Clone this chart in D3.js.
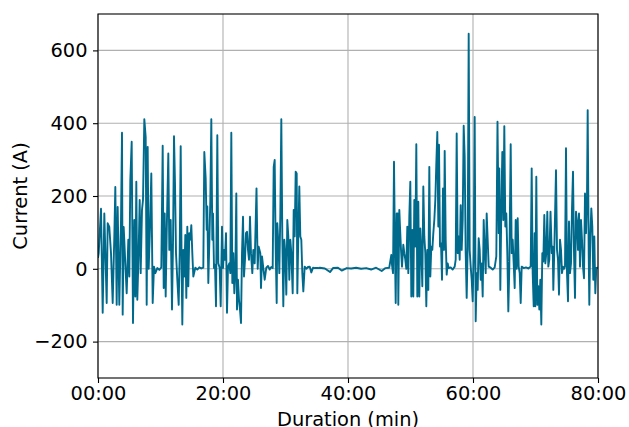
<!DOCTYPE html>
<html>
<head>
<meta charset="utf-8">
<script src="https://cdn.jsdelivr.net/npm/d3@7"></script>
<style>
  body { margin: 0; background: #fff; }
  text { font-family: "DejaVu Sans", sans-serif; }
</style>
</head>
<body>
<div class="chart"></div>
<script>
const width = 629
const height = 427

// duration in minutes, current in amps
const minutes = [
  0, 0.11, 0.48, 0.75, 1.01, 1.39, 1.55, 1.81, 2.08, 2.35, 2.61, 2.77, 2.99, 3.15, 3.41, 3.68, 3.84, 3.95,
  4.11, 4.37, 4.59, 4.85, 5.01, 5.17, 5.39, 5.6, 5.81, 5.97, 6.13, 6.29, 6.51, 6.67, 6.83, 7.04, 7.2,
  7.41, 7.63, 7.79, 7.95, 8.11, 8.32, 8.53, 8.75, 8.96, 9.17, 9.49, 9.81, 10.13, 10.35, 10.51, 10.67,
  10.83, 10.99, 11.25, 11.41, 11.63, 11.84, 12.0, 12.16, 12.32, 12.48, 12.69, 12.91, 13.07, 13.23,
  13.39, 13.49, 13.65, 13.81, 13.97, 14.13, 14.29, 14.45, 14.61, 14.77, 14.93, 15.09, 15.25, 15.57,
  15.89, 16.21, 16.53, 16.85, 17.01, 17.23, 17.39, 17.49, 17.65, 17.81, 17.97, 18.13, 18.29, 18.4,
  18.56, 18.72, 18.88, 19.09, 19.25, 19.47, 19.63, 19.84, 20.0, 20.16, 20.32, 20.48, 20.64, 20.8,
  21.01, 21.17, 21.33, 21.49, 21.65, 21.81, 21.97, 22.13, 22.24, 22.4, 22.56, 22.72, 22.88, 23.04,
  23.2, 23.36, 23.52, 23.68, 23.84, 24.0, 24.16, 24.32, 24.48, 24.69, 24.85, 25.07, 25.36, 25.55,
  25.7, 25.97, 26.08, 26.24, 26.45, 26.67, 26.93, 27.2, 27.47, 27.73, 27.95, 28.11, 28.27, 28.43,
  28.59, 28.69, 28.91, 29.01, 29.17, 29.33, 29.49, 29.65, 29.81, 29.97, 30.13, 30.29, 30.45, 30.61,
  30.77, 30.93, 31.15, 31.31, 31.47, 31.63, 31.79, 31.89, 32.05, 32.21, 32.37, 32.53, 32.69, 32.85,
  33.07, 33.33, 33.6, 33.87, 34.13, 34.4, 34.67, 35.2, 35.5, 36.3, 37.12, 37.6, 38.4, 38.99, 39.8,
  40.5, 41.3, 42.1, 42.9, 43.7, 44.5, 45.39, 46.0, 46.6, 46.93, 47.04, 47.2, 47.36, 47.52, 47.63,
  47.79, 47.95, 48.05, 48.21, 48.32, 48.48, 48.64, 48.85, 49.01, 49.17, 49.33, 49.49, 49.65, 49.81,
  49.97, 50.13, 50.29, 50.45, 50.61, 50.77, 50.93, 51.09, 51.25, 51.41, 51.57, 51.73, 51.89, 52.05,
  52.21, 52.37, 52.53, 52.69, 52.85, 53.01, 53.17, 53.33, 53.49, 53.65, 53.81, 53.97, 54.13, 54.29,
  54.45, 54.56, 54.72, 54.88, 55.04, 55.2, 55.36, 55.47, 55.63, 55.79, 55.95, 56.11, 56.43, 56.75,
  57.07, 57.23, 57.39, 57.55, 57.71, 57.87, 58.03, 58.19, 58.35, 58.51, 58.67, 58.83, 58.99, 59.15,
  59.31, 59.47, 59.63, 59.79, 59.95, 60.11, 60.27, 60.43, 60.59, 60.75, 60.91, 61.07, 61.23, 61.39,
  61.55, 61.71, 61.87, 62.03, 62.19, 62.35, 62.51, 62.83, 63.15, 63.47, 63.73, 63.92, 64.11, 64.21,
  64.37, 64.53, 64.69, 64.85, 65.01, 65.17, 65.33, 65.49, 65.65, 65.81, 66.03, 66.19, 66.35, 66.51,
  66.67, 66.83, 66.99, 67.15, 67.31, 67.47, 67.63, 67.79, 68.11, 68.48, 68.85, 69.23, 69.39, 69.55,
  69.71, 69.87, 69.97, 70.13, 70.29, 70.45, 70.61, 70.77, 70.93, 71.09, 71.25, 71.41, 71.57, 71.73,
  71.89, 72.05, 72.21, 72.4, 72.6, 72.75, 72.85, 73.01, 73.12, 73.28, 73.44, 73.6, 73.76, 73.92,
  74.08, 74.24, 74.4, 74.56, 74.72, 74.88, 75.04, 75.2, 75.36, 75.52, 75.68, 75.84, 76.0, 76.16,
  76.32, 76.48, 76.64, 76.8, 76.96, 77.12, 77.28, 77.44, 77.6, 77.76, 77.92, 78.08, 78.24, 78.35,
  78.51, 78.61, 78.77, 78.93, 79.09, 79.25, 79.41, 79.57, 79.73, 79.89, 80
]

const current = [
  30, 43, 165, -121, 152, -94, 125, 115, 43, -94, 89, 225, -99, 170, -99, 134, 374, -126,
  115, 15, -67, 80, -21, 244, 349, -149, 134, -76, 239, -85, 52, 189, -12, 162, 189,
  411, 362, -99, 335, 0, 115, 262, -94, 6, -12, 2, -3, 4, 338, -53, 152,
  -76, 98, 317, 52, 134, -112, 70, 364, 235, 43, -30, -99, 43, 337,
  -12, -153, 52, -21, 93, -80, 116, -48, 98, 80, 120, 43, -21, 3,
  -2, 4, 1, 3, 321, 248, 107, 171, -39, 70, 189, 411, 80, 152,
  2, 11, -103, 367, 15, 2, -103, 116, 2, 52, 25, 98, -121, 6,
  15, -12, 374, -39, 43, -67, -12, 207, -112, -30, -85, -112, -149, 43,
  143, -21, 25, 98, 102, 52, 25, 143, 43, -12, 52, 15, 221, 0,
  61, 43, -53, 34, 2, -30, 3, 8, -2, 5, 2, 280, 299, 52,
  -94, 125, 52, -12, 148, 411, 89, -103, 80, 43, -71, 134, 89, -30,
  80, 43, -67, 162, 89, 267, 262, -67, 89, 226, 89, 80, -12, -62,
  6, 0, 5, 6, -10, 3, 2, 2, 3, 1, -9, 2, 3, -5, 2,
  1, 3, 0, 2, -2, 3, -6, 2, 3, 38, 11, -12, 294, 43, -94,
  152, 152, -99, 162, 116, 52, 6, 66, 43, 25, 0, 116, -12, 143,
  239, -76, 107, -76, 189, 61, 342, -76, 184, -76, 111, 47, -48, 226,
  89, 43, -103, 52, -58, 280, -21, 61, 52, 98, 134, 189, 289, 376,
  116, 341, 61, 70, -30, 221, 52, 324, 80, -16, 15, 2, 4, -2,
  6, 25, 372, 43, 89, 25, 175, 52, 134, 393, 308, 43, -80, 61,
  646, 52, 6, -30, -89, 43, 417, -144, -12, -58, 84, 52, -30, 15,
  -76, 134, 52, -12, 152, 80, 6, 3, -2, 4, 34, 404, 98, 276,
  -58, 162, 321, 134, 392, 116, 152, 43, -117, 6, 342, 43, 80, 15,
  -53, 134, 0, 139, 6, -12, -94, 6, 2, 4, 1, 6, 276, -12,
  -103, 98, -103, 253, -99, -48, -112, -30, -153, 43, 20, 148, 15, 43,
  157, 6, 25, 157, 43, 61, -58, 52, 143, 271, 52, 25, -71, 80,
  52, -12, 6, 0, 6, 331, -12, -89, 130, -12, 15, 166, 267, 43,
  -80, 157, 130, 52, 152, 6, 134, 80, 6, -26, 207, 98, 198, 436,
  43, -99, 89, 166, 116, -30, 89, -67, 2, 2, 5
]

const xTicks = [0, 20, 40, 60, 80]
const yTicks = [-200, 0, 200, 400, 600]

const margin = {top: 14, right: 31, bottom: 49, left: 98}
const innerW = width - margin.left - margin.right
const innerH = height - margin.top - margin.bottom
const fontSize = "19.4px"

const x = d3.scaleLinear().domain([0, 80]).range([0, innerW])
const y = d3.scaleLinear().domain([-300, 700]).range([innerH, 0])

const svg = d3.create("svg")
  .attr("width", width)
  .attr("height", height)
  .attr("viewBox", [0, 0, width, height])

const g = svg.append("g")
  .attr("transform", `translate(${margin.left},${margin.top})`)

// grid
g.append("g")
  .selectAll("line")
  .data(xTicks)
  .join("line")
  .attr("x1", d => x(d)).attr("x2", d => x(d))
  .attr("y1", 0).attr("y2", innerH)
  .attr("stroke", "#b0b0b0")
  .attr("stroke-width", 1.1)

g.append("g")
  .selectAll("line")
  .data(yTicks)
  .join("line")
  .attr("x1", 0).attr("x2", innerW)
  .attr("y1", d => y(d)).attr("y2", d => y(d))
  .attr("stroke", "#b0b0b0")
  .attr("stroke-width", 1.1)

svg.append("defs").append("clipPath")
  .attr("id", "clip")
  .append("rect")
  .attr("width", innerW).attr("height", innerH)

const pts = minutes.map((m, i) => [m, current[i]])

const line = d3.line()
  .x(d => x(d[0]))
  .y(d => y(d[1]))

g.append("path")
  .datum(pts)
  .attr("clip-path", "url(#clip)")
  .attr("fill", "none")
  .attr("stroke", "#006a8d")
  .attr("stroke-width", 1.9)
  .attr("stroke-linejoin", "round")
  .attr("d", line)

// axes
const fmt = d3.format("02d")
const xAxis = g.append("g")
  .attr("transform", `translate(0,${innerH})`)
  .call(d3.axisBottom(x).tickValues(xTicks).tickSize(5).tickPadding(3.5)
    .tickFormat(d => fmt(d) + ":00"))

const yAxis = g.append("g")
  .call(d3.axisLeft(y).tickValues(yTicks).tickSize(5).tickPadding(5.5)
    .tickFormat(d => d < 0 ? "\u2212" + Math.abs(d) : d))

for (const ax of [xAxis, yAxis]) {
  ax.select(".domain").remove()
  ax.selectAll(".tick line").attr("stroke", "#000").attr("stroke-width", 1.1)
  ax.selectAll(".tick text")
    .attr("fill", "#000")
    .style("font-size", fontSize)
    .style("font-family", "'DejaVu Sans', sans-serif")
}

// frame
g.append("rect")
  .attr("width", innerW).attr("height", innerH)
  .attr("fill", "none")
  .attr("stroke", "#000")
  .attr("stroke-width", 1.1)

svg.append("text")
  .attr("x", margin.left + innerW / 2)
  .attr("y", 425.5)
  .attr("text-anchor", "middle")
  .style("font-size", fontSize)
  .text("Duration (min)")

svg.append("text")
  .attr("transform", `translate(26.5,${margin.top + innerH / 2}) rotate(-90)`)
  .attr("text-anchor", "middle")
  .style("font-size", fontSize)
  .text("Current (A)")

document.querySelector(".chart").append(svg.node())
</script>
</body>
</html>
